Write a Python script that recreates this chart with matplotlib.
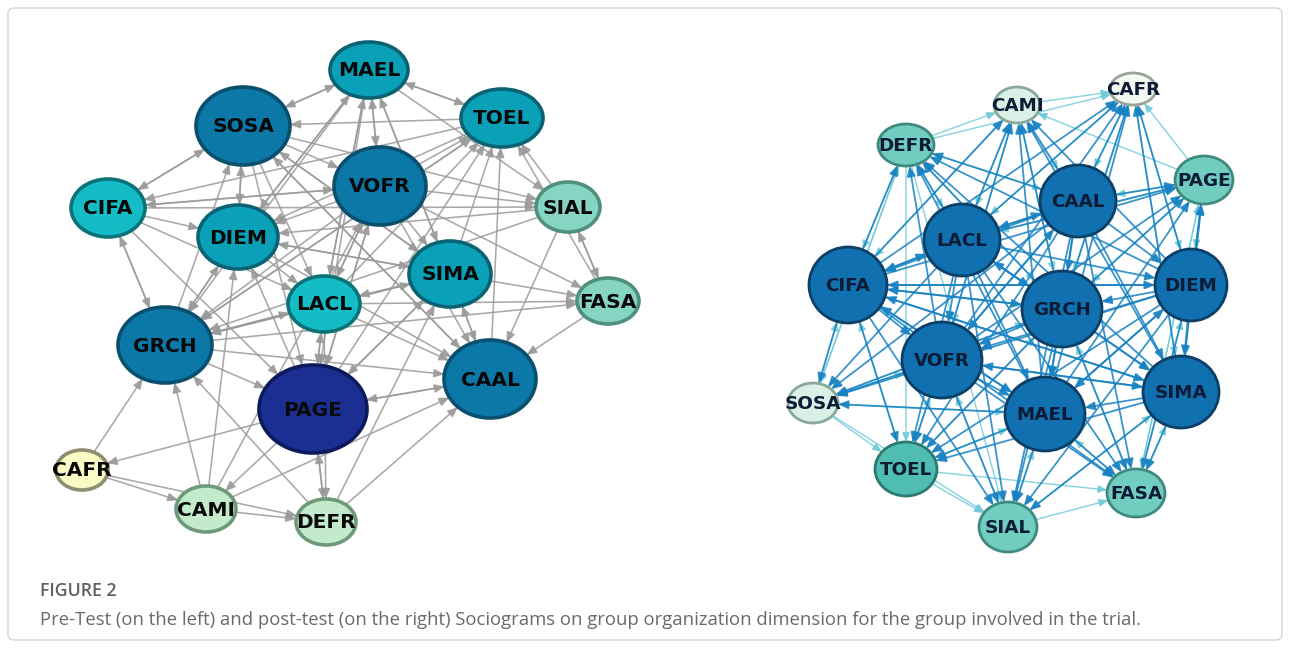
import numpy as np
import matplotlib
matplotlib.use("Agg")
import matplotlib.pyplot as plt
from matplotlib.patches import Ellipse, FancyArrowPatch, FancyBboxPatch

# ---------------- data ----------------
# Pre-test sociogram (left)
left_nodes = ["MAEL", "TOEL", "SOSA", "VOFR", "CIFA", "SIAL", "DIEM", "SIMA",
              "LACL", "FASA", "GRCH", "CAAL", "PAGE", "CAFR", "CAMI", "DEFR"]
left_x = [369, 502, 243, 380, 108, 568, 238, 450, 324, 608, 165, 490, 313, 82, 206, 326]
left_y = [70, 118, 126, 186, 208, 207, 237, 274, 304, 301, 345, 379, 409, 470, 509, 522]
left_w = [78, 82, 94, 92, 74, 64, 80, 82, 72, 62, 94, 92, 108, 52, 60, 60]
left_h = [56, 58, 78, 78, 58, 50, 64, 66, 56, 46, 76, 78, 88, 40, 46, 46]
left_level = [3, 3, 2, 2, 4, 5, 3, 3, 4, 5, 2, 2, 1, 7, 6, 6]
left_edges = {
    "SOSA": "MAEL VOFR CIFA DIEM SIAL CAAL SIMA LACL PAGE",
    "TOEL": "SOSA MAEL CIFA DIEM GRCH",
    "MAEL": "TOEL VOFR DIEM LACL SIMA GRCH PAGE SIAL SOSA",
    "VOFR": "TOEL CIFA DIEM SIAL LACL SIMA CAAL GRCH PAGE FASA MAEL",
    "CIFA": "DIEM SIAL GRCH LACL PAGE SOSA VOFR",
    "SIAL": "TOEL FASA CAAL DIEM GRCH",
    "DIEM": "SIMA LACL GRCH CAAL SOSA MAEL",
    "SIMA": "TOEL LACL CAAL GRCH PAGE FASA MAEL DIEM SOSA",
    "LACL": "GRCH PAGE CAAL FASA DEFR MAEL TOEL VOFR",
    "FASA": "CAAL SIAL TOEL",
    "GRCH": "PAGE CAAL CIFA SOSA DIEM TOEL SIMA FASA LACL",
    "CAAL": "PAGE TOEL SIMA SOSA",
    "PAGE": "CAFR CAMI DEFR VOFR SIMA CAAL LACL DIEM TOEL",
    "CAFR": "GRCH CAMI DEFR",
    "CAMI": "DEFR GRCH DIEM VOFR CAAL",
    "DEFR": "CAAL GRCH PAGE SIMA",
}

# Post-test sociogram (right)
right_nodes = ["CAFR", "CAMI", "DEFR", "PAGE", "CAAL", "LACL", "CIFA", "DIEM",
               "GRCH", "VOFR", "SOSA", "SIMA", "MAEL", "TOEL", "FASA", "SIAL"]
right_x = [1133, 1017, 906, 1204, 1078, 962, 848, 1191, 1062, 942, 813, 1181, 1045, 906, 1136, 1008]
right_y = [89, 105, 145, 180, 201, 240, 285, 285, 309, 360, 403, 392, 414, 469, 493, 527]
right_w = [46, 46, 56, 58, 76, 76, 78, 72, 80, 80, 50, 76, 80, 62, 58, 58]
right_h = [32, 36, 42, 48, 72, 72, 76, 72, 76, 76, 40, 72, 74, 54, 48, 50]
right_level = [8, 7, 5, 5, 2, 2, 2, 2, 2, 2, 7, 2, 2, 4, 5, 5]
right_edges = {
    "CAAL": "CAFR CAMI DEFR PAGE LACL CIFA DIEM GRCH VOFR SOSA SIMA MAEL TOEL FASA SIAL",
    "LACL": "CAFR CAMI DEFR PAGE CIFA DIEM GRCH VOFR SOSA SIMA MAEL TOEL FASA SIAL CAAL",
    "CIFA": "CAFR CAMI DEFR PAGE DIEM GRCH VOFR SOSA SIMA MAEL TOEL FASA SIAL LACL",
    "DIEM": "CAFR CAMI DEFR PAGE GRCH VOFR SOSA SIMA MAEL TOEL FASA SIAL CIFA",
    "GRCH": "CAFR CAMI DEFR PAGE VOFR SOSA SIMA MAEL TOEL FASA SIAL CIFA LACL",
    "VOFR": "CAFR CAMI DEFR PAGE SOSA SIMA MAEL TOEL FASA SIAL CAAL",
    "SIMA": "CAFR CAMI DEFR PAGE MAEL TOEL FASA SIAL VOFR CIFA",
    "MAEL": "CAFR CAMI DEFR PAGE SOSA TOEL FASA SIAL DIEM CIFA",
}
right_light_edges = {
    "DEFR": "CAMI SOSA TOEL CAFR LACL CAAL GRCH CIFA SIAL",
    "PAGE": "CAFR CAMI FASA CAAL DIEM LACL GRCH SIMA",
    "SOSA": "TOEL SIAL DEFR CIFA VOFR MAEL GRCH",
    "TOEL": "SIAL FASA VOFR CIFA MAEL GRCH",
    "SIAL": "FASA MAEL VOFR SIMA",
    "FASA": "PAGE SIMA MAEL GRCH DIEM",
    "CAMI": "CAFR LACL CAAL CIFA GRCH VOFR",
    "CAFR": "CAAL DIEM LACL GRCH SIMA",
}

caption_title = "FIGURE 2"
caption_text = ("Pre-Test (on the left) and post-test (on the right) Sociograms on group "
                "organization dimension for the group involved in the trial.")

# ---------------- styles ----------------
left_fill = {1: "#1b2f93", 2: "#0b78a8", 3: "#0aa1b8", 4: "#14bcc6",
             5: "#86d5c3", 6: "#c3ebcb", 7: "#fbfbc6"}
left_edgec = {1: "#0c1a5c", 2: "#0a4f6e", 3: "#0a6273", 4: "#0b7377",
              5: "#4f8f7d", 6: "#6e9a7a", 7: "#8e8e70"}
right_fill = {2: "#1170b0", 4: "#4fbdb2", 5: "#72cdc1", 7: "#d9f0e6", 8: "#f5f8f3"}
right_edgec = {2: "#0b3f66", 4: "#2b7a70", 5: "#3f8a7e", 7: "#8aa99c", 8: "#9aa29a"}

W, H = 1290, 648
fig = plt.figure(figsize=(W / 100, H / 100), dpi=100)
ax = fig.add_axes([0, 0, 1, 1])
ax.set_xlim(0, W)
ax.set_ylim(H, 0)
ax.axis("off")

border = FancyBboxPatch((8, 8), W - 16, H - 16, boxstyle="round,pad=0,rounding_size=6",
                        facecolor="white", edgecolor="#d4d4d4", lw=1.0, zorder=0)
ax.add_patch(border)


def edge_point(x, y, w, h, dx, dy):
    rx, ry = w / 2, h / 2
    t = 1.0 / np.sqrt((dx / rx) ** 2 + (dy / ry) ** 2)
    return x + dx * t, y + dy * t


def draw_graph(names, xs, ys, ws, hs, edges, color, lw, alpha, ms):
    idx = {n: i for i, n in enumerate(names)}
    for src, tgts in edges.items():
        a = idx[src]
        for t in tgts.split():
            b = idx[t]
            dx, dy = xs[b] - xs[a], ys[b] - ys[a]
            p0 = edge_point(xs[a], ys[a], ws[a], hs[a], dx, dy)
            p1 = edge_point(xs[b], ys[b], ws[b], hs[b], -dx, -dy)
            style = "-|>,head_length=0.6,head_width=0.25"
            arr = FancyArrowPatch(p0, p1, arrowstyle=style, mutation_scale=ms,
                                  color=color, lw=lw, alpha=alpha,
                                  shrinkA=0, shrinkB=0, zorder=1)
            ax.add_patch(arr)


def draw_nodes(names, xs, ys, ws, hs, levels, fills, edgecs, nlw, fs, tcolor):
    for n, x, y, w, h, lv in zip(names, xs, ys, ws, hs, levels):
        ax.add_patch(Ellipse((x, y), w, h, facecolor=fills[lv], edgecolor=edgecs[lv],
                             lw=nlw, zorder=2))
        ax.text(x, y + 1, n, ha="center", va="center", fontsize=fs, fontweight="bold",
                family="DejaVu Sans", color=tcolor, zorder=3)


# left graph
draw_graph(left_nodes, left_x, left_y, left_w, left_h, left_edges, "#9a9a9a", 1.15, 0.85, 10)
draw_nodes(left_nodes, left_x, left_y, left_w, left_h, left_level,
           left_fill, left_edgec, 2.6, 14.5, "#080808")

# right graph
draw_graph(right_nodes, right_x, right_y, right_w, right_h, right_light_edges,
           "#6fcbd8", 1.0, 0.85, 9)
draw_graph(right_nodes, right_x, right_y, right_w, right_h, right_edges,
           "#1882c2", 1.3, 0.85, 10)
draw_nodes(right_nodes, right_x, right_y, right_w, right_h, right_level,
           right_fill, right_edgec, 2.0, 13.2, "#0c1c36")

# caption
ax.text(40, 591, caption_title, ha="left", va="center", fontsize=12.8,
        fontweight="semibold", family="Open Sans", color="#606060")
ax.text(40, 620, caption_text, ha="left", va="center", fontsize=13.3,
        family="Open Sans", color="#6a6a6a")

fig.savefig("out.png", dpi=100)
